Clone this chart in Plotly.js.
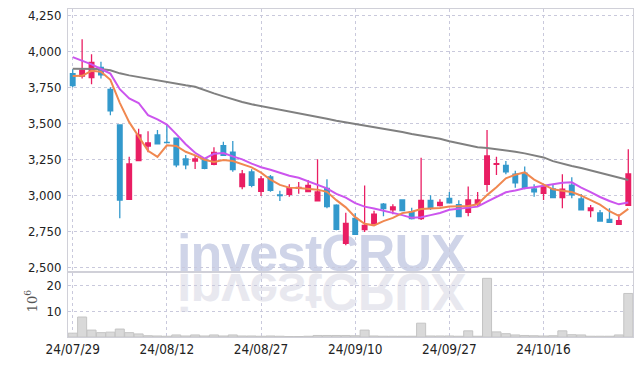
<!DOCTYPE html>
<html><head><meta charset="utf-8">
<script src="https://cdn.plot.ly/plotly-3.0.1.min.js"></script>
<style>
html,body{margin:0;padding:0;background:#fff;}
#wrap{position:relative;width:642px;height:366px;overflow:hidden;}
.wm{position:absolute;left:177px;font-family:'Liberation Sans',Arial,sans-serif;font-weight:bold;font-size:52px;line-height:38px;height:38px;letter-spacing:-1px;white-space:nowrap;}
#wm1{top:234px;color:#cfd4e8;}
#wm2{top:273px;color:#e8e8ef;transform:scaleY(-1);}
#chart{position:absolute;left:0;top:0;width:642px;height:366px;}
</style></head>
<body><div id="wrap"><div class="wm" id="wm1">investCRUX</div><div class="wm" id="wm2">investCRUX</div><div id="chart"></div></div>
<script>
var dates = ['24/07/29','24/07/30','24/07/31','24/08/01','24/08/02','24/08/05','24/08/06','24/08/07','24/08/08','24/08/09',
'24/08/12','24/08/13','24/08/14','24/08/16','24/08/19','24/08/20','24/08/21','24/08/22','24/08/23','24/08/26',
'24/08/27','24/08/28','24/08/29','24/08/30','24/09/02','24/09/03','24/09/04','24/09/05','24/09/06','24/09/09',
'24/09/10','24/09/11','24/09/12','24/09/13','24/09/19','24/09/20','24/09/23','24/09/24','24/09/25','24/09/26',
'24/09/27','24/09/30','24/10/02','24/10/04','24/10/07','24/10/08','24/10/10','24/10/11','24/10/14','24/10/15',
'24/10/16','24/10/17','24/10/18','24/10/21','24/10/22','24/10/23','24/10/24','24/10/25','24/10/28','24/10/29'];
var tickDates = ['24/07/29','24/08/12','24/08/27','24/09/10','24/09/27','24/10/16'];
var priceTicks = [2500,2750,3000,3250,3500,3750,4000,4250];
var volTicks = [10,20];

var open  = [3847,3831,3820,3892,3739,3491,2975,3243,3345,3422,3370,3399,3255,3241,3255,3218,3347,3303,3063,3165,3030,3130,3005,3010,3052,3028,2965,3051,2935,2669,2843,2764,2806,2942,2901,2970,2887,2840,2968,2931,2982,2938,2885,2942,3079,3218,3211,3149,3156,3047,3017,3047,2986,3074,2977,2896,2880,2836,2801,2933];
var high  = [3878,4086,3982,3930,3753,3495,3271,3465,3447,3456,3498,3405,3283,3283,3262,3336,3375,3380,3179,3183,3137,3144,3035,3079,3095,3109,3253,3114,2940,2882,2878,3070,2896,2949,2940,2975,2917,3264,3003,2975,3026,2968,3063,3026,3456,3271,3241,3174,3202,3079,3068,3074,3149,3128,3012,2935,2901,2912,2871,3322];
var low   = [3753,3815,3774,3815,3558,2843,2970,3240,3301,3355,3365,3197,3183,3185,3183,3212,3275,3167,3045,3058,2998,3028,2963,2993,3014,3025,2960,2912,2760,2655,2728,2748,2800,2857,2871,2892,2835,2831,2901,2925,2948,2850,2857,2924,3028,3144,3149,3056,3045,2993,2970,2982,2912,2982,2898,2850,2820,2812,2798,2930];
var close = [3764,3873,3926,3840,3590,2970,3220,3422,3366,3361,3368,3215,3215,3255,3190,3301,3280,3181,3151,3072,3116,3037,3000,3056,3058,3072,3026,2924,2767,2808,2732,2794,2871,2910,2922,2896,2840,2968,2912,2954,2951,2854,2970,2970,3276,3222,3165,3090,3056,3026,3061,2986,3045,3005,2901,2915,2824,2815,2826,3151];
var ma5   = [3831,3833,3868,3861,3805,3645,3511,3408,3312,3270,3350,3346,3305,3280,3249,3235,3248,3241,3221,3197,3160,3111,3075,3056,3053,3045,3042,3027,2969,2919,2851,2805,2794,2823,2846,2879,2888,2907,2908,2914,2925,2928,2928,2940,3004,3058,3121,3145,3162,3112,3080,3044,3035,3025,3000,2970,2938,2892,2860,2908];
var ma10  = [3963,3938,3912,3880,3848,3740,3676,3644,3560,3530,3494,3428,3357,3298,3258,3291,3297,3273,3252,3223,3198,3180,3158,3138,3125,3102,3077,3051,3013,2986,2948,2924,2911,2896,2883,2865,2846,2851,2865,2880,2902,2908,2918,2924,2959,2992,3024,3036,3051,3058,3069,3082,3090,3093,3056,3025,2991,2963,2940,2953];
var ma60  = [3882,3882,3882,3880,3871,3850,3836,3824,3810,3799,3787,3778,3767,3757,3732,3711,3690,3669,3651,3635,3623,3611,3600,3588,3576,3563,3549,3535,3521,3510,3498,3489,3479,3468,3456,3442,3428,3417,3404,3395,3378,3363,3348,3337,3331,3324,3315,3305,3294,3282,3266,3240,3222,3206,3192,3175,3158,3140,3122,3109];
var volume = [1.5,7.8,2.7,1.7,1.9,3.1,1.7,1.2,0.5,0.4,0.3,0.8,0.4,0.8,0.4,0.8,0.4,0.8,0.4,0.4,0.3,0.4,0.3,0.2,0.2,0.3,0.6,0.6,0.6,0.6,0.5,2.7,0.4,0.3,0.3,0.3,0.3,5.4,0.4,0.4,0.4,0.3,2.4,0.3,22.9,2.0,1.3,0.8,0.6,0.5,0.4,0.5,2.4,0.9,0.8,0.3,0.3,0.3,0.8,17.0];

var PINK = '#e91e63', BLUE = '#3399cc';
var FONT = "'DejaVu Sans Condensed','DejaVu Sans',sans-serif";
var GRID = '#c9c9dc', FRAME = '#d0d0d8';

var traces = [
  {type:'bar', x:dates, y:volume, xaxis:'x', yaxis:'y2',
   marker:{color:'#d9d9d9', line:{color:'#c4c4c4', width:1}}, hoverinfo:'skip'},
  {type:'candlestick', x:dates, open:open, high:high, low:low, close:close, xaxis:'x', yaxis:'y',
   increasing:{line:{color:PINK, width:1.3}, fillcolor:PINK},
   decreasing:{line:{color:BLUE, width:1.3}, fillcolor:BLUE},
   whiskerwidth:0, hoverinfo:'skip'},
  {type:'scatter', mode:'lines', x:dates, y:ma60, line:{color:'#808080', width:2}, hoverinfo:'skip'},
  {type:'scatter', mode:'lines', x:dates, y:ma10, line:{color:'#cc55ee', width:2}, hoverinfo:'skip'},
  {type:'scatter', mode:'lines', x:dates, y:ma5, line:{color:'#f08850', width:2}, hoverinfo:'skip'}
];

var layout = {
  width:642, height:366,
  margin:{l:68, r:9, t:9, b:29},
  paper_bgcolor:'rgba(0,0,0,0)', plot_bgcolor:'rgba(0,0,0,0)',
  showlegend:false, bargap:0.04,
  font:{family:FONT, size:13, color:'#222'},
  xaxis:{type:'category', range:[-0.5,59.5], anchor:'y2', tickmode:'array', tickvals:tickDates, ticktext:tickDates,
    showgrid:true, gridcolor:GRID, griddash:'dot', gridwidth:1,
    showline:true, linecolor:FRAME, mirror:'all',
    ticks:'', tickfont:{family:FONT, size:13.5, color:'#222'},
    rangeslider:{visible:false}, fixedrange:true},
  yaxis:{domain:[0.2,1], range:[2474,4297], tickmode:'array', tickvals:priceTicks, tickformat:',d',
    showgrid:true, gridcolor:GRID, griddash:'dot', gridwidth:1, zeroline:false,
    showline:true, linecolor:FRAME, mirror:true,
    ticks:'outside', ticklen:3, tickcolor:'rgba(0,0,0,0)',
    tickfont:{family:FONT, size:13, color:'#222'}, fixedrange:true},
  yaxis2:{domain:[0,0.196], range:[0,25.1], tickmode:'array', tickvals:volTicks,
    showgrid:true, gridcolor:GRID, griddash:'dot', gridwidth:1, zeroline:false,
    showline:true, linecolor:FRAME, mirror:true,
    ticks:'outside', ticklen:3, tickcolor:'rgba(0,0,0,0)',
    tickfont:{family:FONT, size:13, color:'#222'}, fixedrange:true},
  annotations:[{xref:'paper', yref:'paper', x:-0.065, y:0.11, xanchor:'center', yanchor:'middle',
    text:'10<sup>6</sup>', textangle:-90, showarrow:false,
    font:{family:"'DejaVu Serif',serif", size:13, color:'#555'}}]
};

Plotly.newPlot('chart', traces, layout, {displayModeBar:false, staticPlot:true});
</script>
</body></html>
